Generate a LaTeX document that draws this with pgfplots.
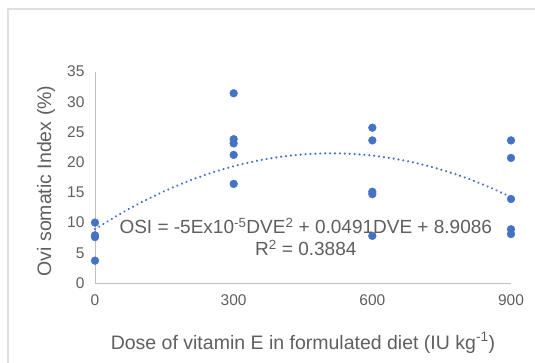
\documentclass[border=0pt]{standalone}
\usepackage{pgfplots}
\pgfplotsset{compat=1.18}
\usepackage{fontspec}
\setmainfont{Liberation Sans}
\definecolor{txt}{HTML}{5F5F5F}
\definecolor{dot}{HTML}{4472C4}
\definecolor{axl}{HTML}{BFBFBF}
\begin{document}
\begin{tikzpicture}[x=1pt,y=1pt]
\useasboundingbox (0,0) rectangle (535,362);
\draw[color=black!12, line width=1.2pt] (8,353) rectangle (545,-10);
\begin{axis}[
  at={(95pt,79pt)}, anchor=south west,
  scale only axis, width=416pt, height=211.5pt,
  xmin=0, xmax=900, ymin=0, ymax=35,
  axis x line=bottom, axis y line=left,
  axis line style={draw=axl, line width=0.9pt, -},
  xtick={0,300,600,900}, ytick={0,5,...,35},
  major tick length=0pt,
  tick label style={color=txt, font=\fontsize{15.5}{18}\selectfont},
  /pgf/number format/assume math mode=true,
  xticklabel style={yshift=-8pt},
  yticklabel style={xshift=-7pt},
  clip=false,
]
\addplot[color=dot, line width=2.4pt, line cap=round, dash pattern=on 0.01pt off 4.9pt, smooth] coordinates {
(0,8.91) (50,11.24) (100,13.34) (150,15.19) (200,16.81) (250,18.18) (300,19.32)
(350,20.21) (400,20.87) (450,21.28) (500,21.46) (550,21.39) (600,21.09)
(650,20.54) (700,19.76) (750,18.73) (800,17.47) (850,15.96) (900,14.22)};
\node[fill=white, inner sep=0.5pt, text=txt, font=\fontsize{19}{22}\selectfont] at (axis cs:456,9.4)
  {OSI = -5Ex10\textsuperscript{-5}DVE\textsuperscript{2} + 0.0491DVE + 8.9086};
\node[fill=white, inner sep=0.5pt, text=txt, font=\fontsize{19}{22}\selectfont] at (axis cs:456,5.8)
  {R\textsuperscript{2} = 0.3884};
\addplot[only marks, mark=*, mark size=3.9pt, color=dot, mark options={fill=dot, draw=dot}] coordinates {
(0,10.0) (0,7.9) (0,7.6) (0,3.7)
(300,31.4) (300,23.8) (300,23.1) (300,21.2) (300,16.4)
(600,25.7) (600,23.6) (600,15.1) (600,14.7) (600,7.8)
(900,23.6) (900,20.7) (900,13.9) (900,8.9) (900,8.1)};
\end{axis}
\node[text=txt, font=\fontsize{19.5}{22}\selectfont] at (303,19)
  {Dose of vitamin E in formulated diet (IU kg\textsuperscript{-1})};
\node[text=txt, rotate=90, font=\fontsize{19.5}{22}\selectfont] at (46,181)
  {Ovi somatic Index (\%)};
\end{tikzpicture}
\end{document}
